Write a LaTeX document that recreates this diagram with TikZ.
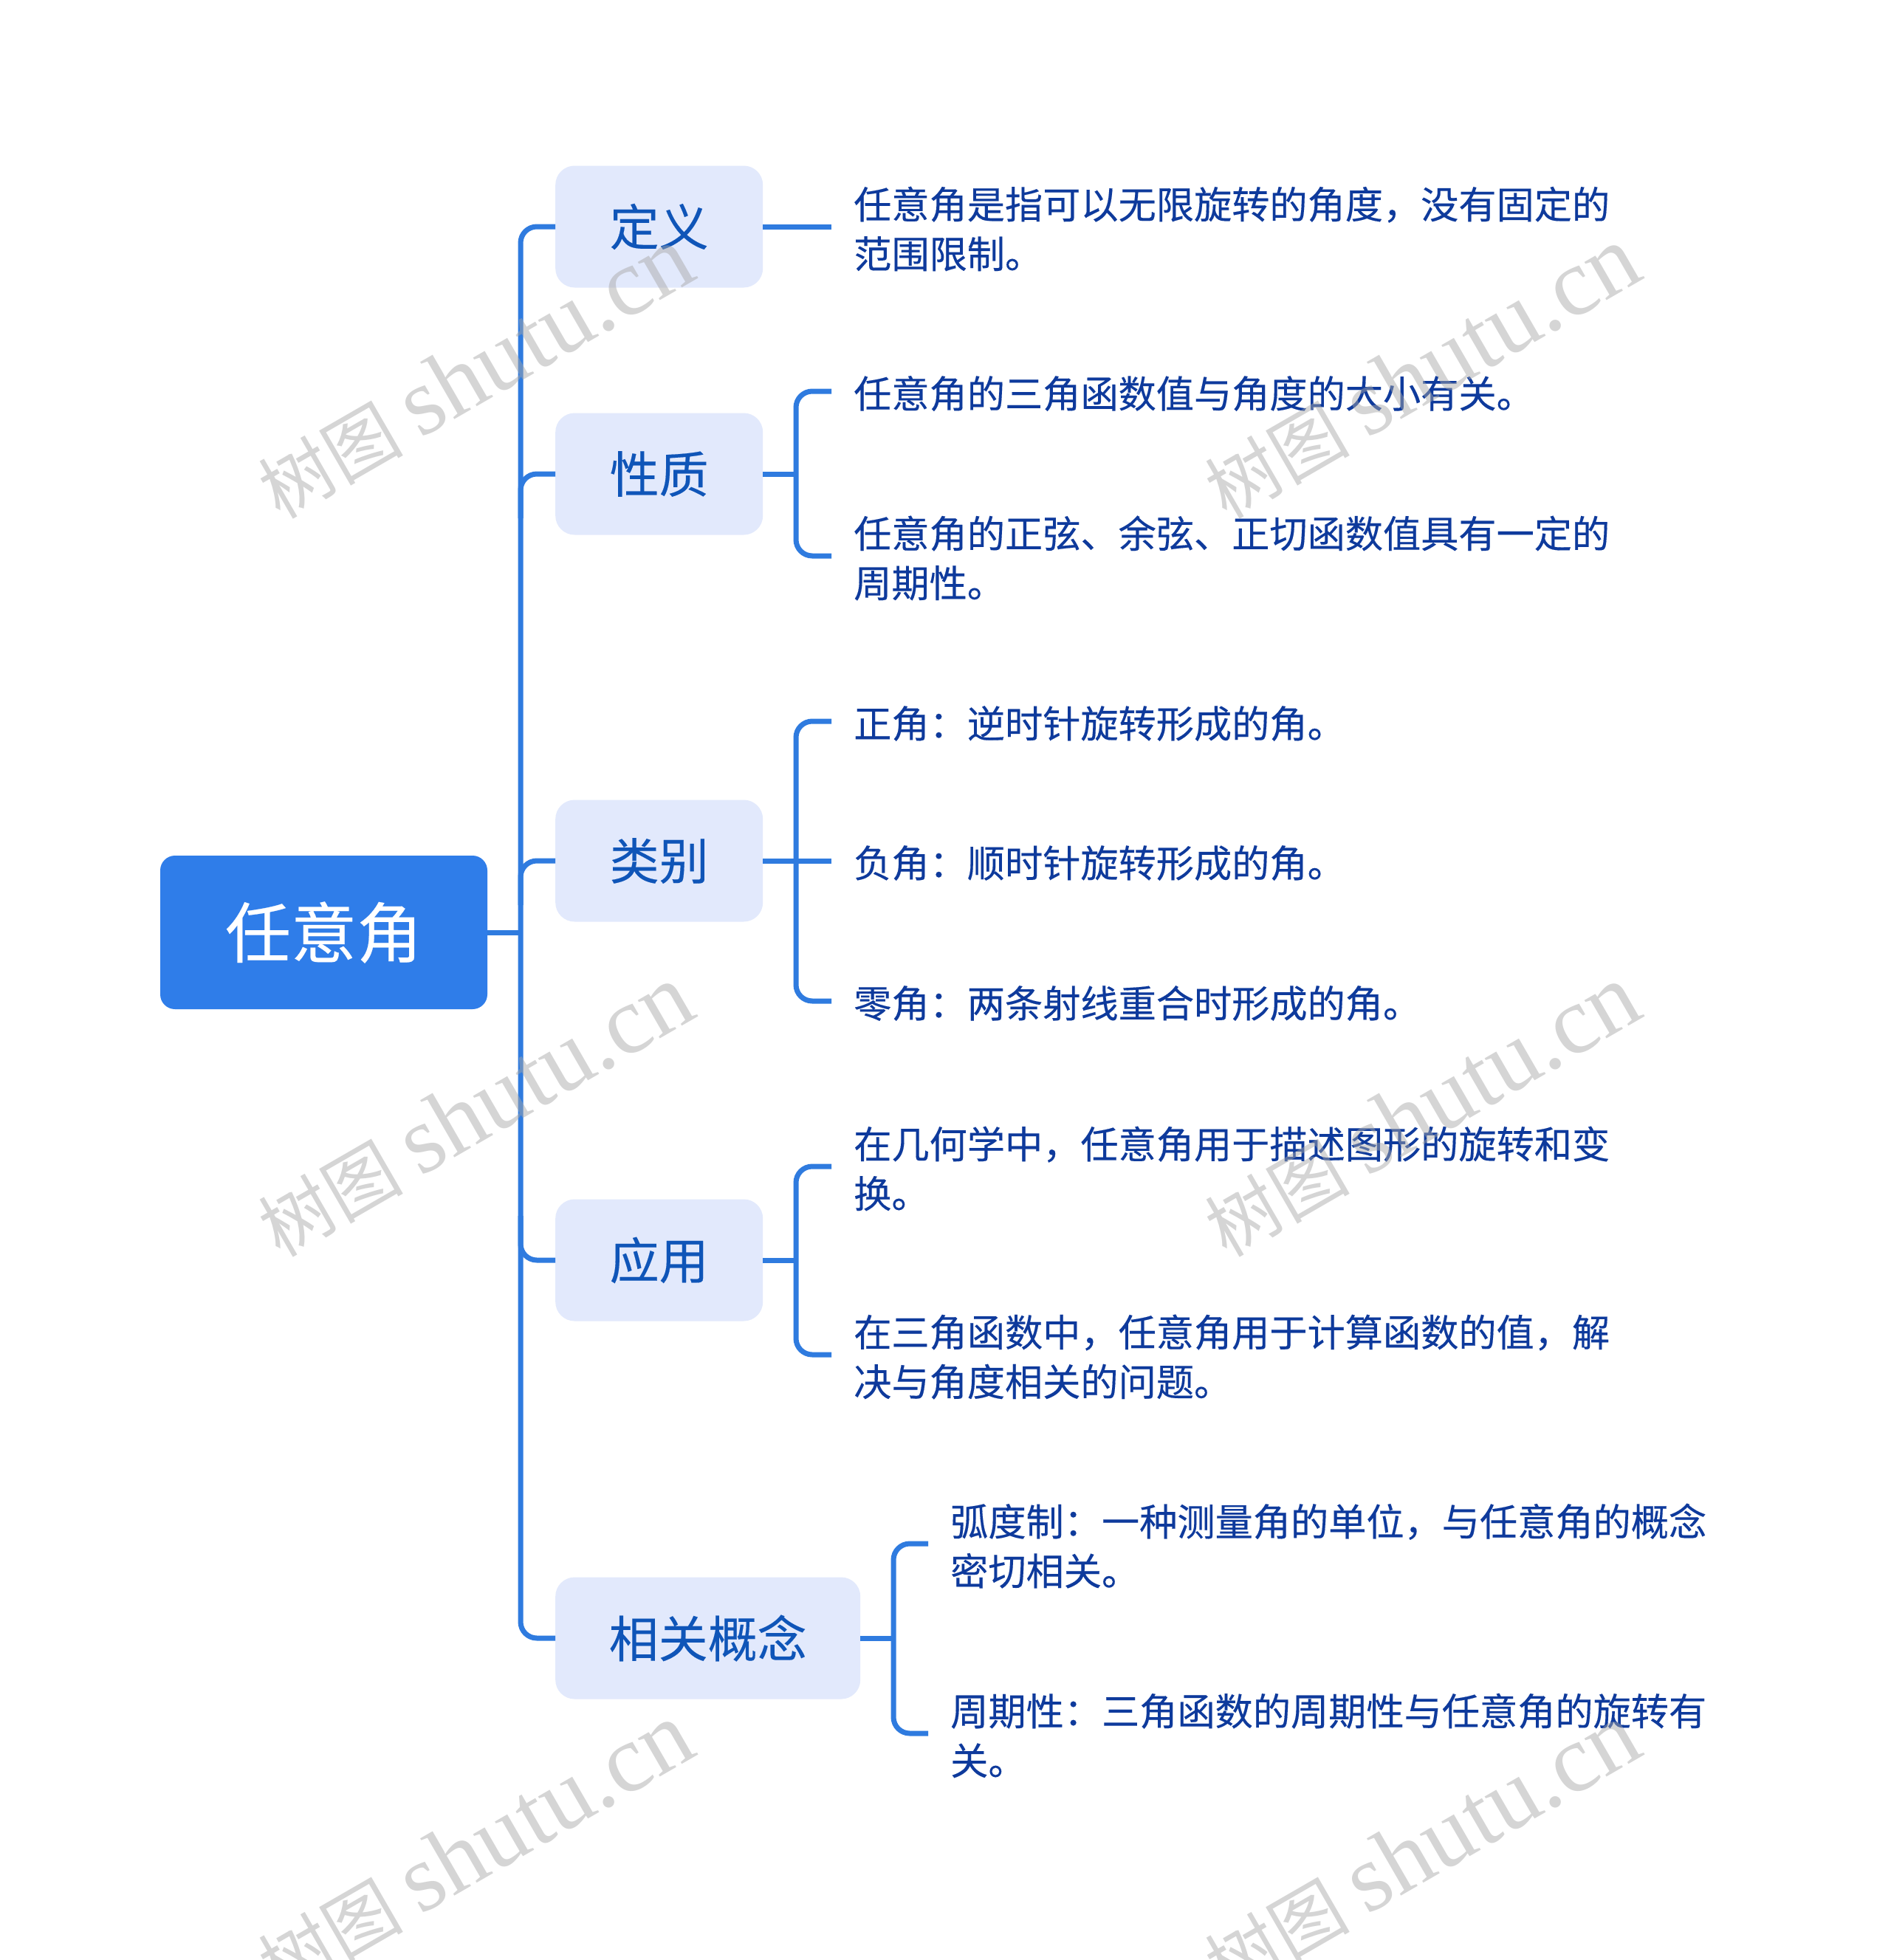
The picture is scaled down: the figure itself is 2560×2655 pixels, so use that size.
\documentclass[tikz,border=0pt]{standalone}
\usepackage{fontspec}
\setmainfont[FakeBold=0.25]{Noto Sans CJK SC}
\newfontfamily\wmlatin{Liberation Serif}
\newfontfamily\wmcjk{Noto Sans CJK SC}
\definecolor{rootfill}{HTML}{2F7DE9}
\definecolor{boxfill}{HTML}{E2E9FC}
\definecolor{linecol}{HTML}{2F7BDF}
\definecolor{boxtext}{HTML}{0F55B8}
\definecolor{leaftext}{HTML}{0E3A9C}
\definecolor{wmcol}{HTML}{A8A8A8}
\tikzset{
 rootbox/.style={rectangle,rounded corners=20pt,fill=rootfill,text=white,minimum width=443pt,minimum height=208pt,inner sep=0pt,font=\fontsize{89}{100}\selectfont},
 catbox/.style={rectangle,rounded corners=26pt,fill=boxfill,text=boxtext,minimum height=165pt,inner sep=0pt,anchor=west,font=\fontsize{67}{78}\selectfont},
 leaf/.style={anchor=west,align=left,text=leaftext,inner xsep=30pt,inner ysep=0pt,font=\fontsize{51.2}{67}\selectfont},
 conn/.style={draw=linecol,line width=7pt,rounded corners=22pt},
 wm/.style={text=wmcol,opacity=.48,rotate=30,inner sep=0pt}
}
\newcommand{\wmark}[2]{\node[wm] (#2) at (#1) {{\wmcjk\fontsize{98}{130}\selectfont 树图}\hspace{24pt}{\wmlatin\fontsize{130}{130}\selectfont shutu.cn}};}
\begin{document}
\begin{tikzpicture}[x=1pt,y=-1pt]
\useasboundingbox[fill=white] (0,0) rectangle (2560,2655);
\node[rootbox] (root) at (438.5,1263) {任意角};
\node[catbox,minimum width=281pt] (c1) at (752,307) {定义};
\node[catbox,minimum width=281pt] (c2) at (752,642) {性质};
\node[catbox,minimum width=281pt] (c3) at (752,1166) {类别};
\node[catbox,minimum width=281pt] (c4) at (752,1707) {应用};
\node[catbox,minimum width=413pt] (c5) at (752,2219) {相关概念};
\node[leaf] (l1) at (1126,310) {任意角是指可以无限旋转的角度，没有固定的\\范围限制。};
\node[leaf] (l2) at (1126,533) {任意角的三角函数值与角度的大小有关。};
\node[leaf] (l3) at (1126,756) {任意角的正弦、余弦、正切函数值具有一定的\\周期性。};
\node[leaf] (l4) at (1126,980) {正角：逆时针旋转形成的角。};
\node[leaf] (l5) at (1126,1169) {负角：顺时针旋转形成的角。};
\node[leaf] (l6) at (1126,1359) {零角：两条射线重合时形成的角。};
\node[leaf] (l7) at (1126,1583) {在几何学中，任意角用于描述图形的旋转和变\\换。};
\node[leaf] (l8) at (1126,1838) {在三角函数中，任意角用于计算函数的值，解\\决与角度相关的问题。};
\node[leaf] (l9) at (1257,2094) {弧度制：一种测量角的单位，与任意角的概念\\密切相关。};
\node[leaf] (l10) at (1257,2351) {周期性：三角函数的周期性与任意角的旋转有\\关。};
\coordinate (t) at (705,0);
\coordinate (b2) at (1078,0);
\coordinate (b5) at (1210,0);
% main trunk
\draw[conn] (c1.west) -- (t |- c1.west) -- (t |- c5.west) -- (c5.west);
\draw[conn] (root.east) -- (t |- root.east);
\draw[conn] (c2.west) -- (t |- c2.west) -- ++(0,60);
\draw[conn] (c3.west) -- (t |- c3.west) -- ++(0,60);
\draw[conn] (c4.west) -- (t |- c4.west) -- ++(0,-60);
% leaves
\draw[conn] (c1.east) -- ([yshift=3pt]l1.west);
\draw[conn] (c2.east) -- (b2 |- c2.east);
\draw[conn] ([yshift=3pt]l2.west) -- ([yshift=3pt]b2 |- l2.west) -- ([yshift=3pt]b2 |- l3.west) -- ([yshift=3pt]l3.west);
\draw[conn] (c3.east) -- ([yshift=3pt]l5.west);
\draw[conn] ([yshift=3pt]l4.west) -- ([yshift=3pt]b2 |- l4.west) -- ([yshift=3pt]b2 |- l6.west) -- ([yshift=3pt]l6.west);
\draw[conn] (c4.east) -- (b2 |- c4.east);
\draw[conn] ([yshift=3pt]l7.west) -- ([yshift=3pt]b2 |- l7.west) -- ([yshift=3pt]b2 |- l8.west) -- ([yshift=3pt]l8.west);
\draw[conn] (c5.east) -- (b5 |- c5.east);
\draw[conn] ([yshift=3pt]l9.west) -- ([yshift=3pt]b5 |- l9.west) -- ([yshift=3pt]b5 |- l10.west) -- ([yshift=3pt]l10.west);
% watermarks
\wmark{643,505}{w1}
\wmark{1925,505}{w2}
\wmark{643,1505}{w3}
\wmark{1925,1505}{w4}
\wmark{643,2505}{w5}
\wmark{1925,2505}{w6}
\end{tikzpicture}
\end{document}
